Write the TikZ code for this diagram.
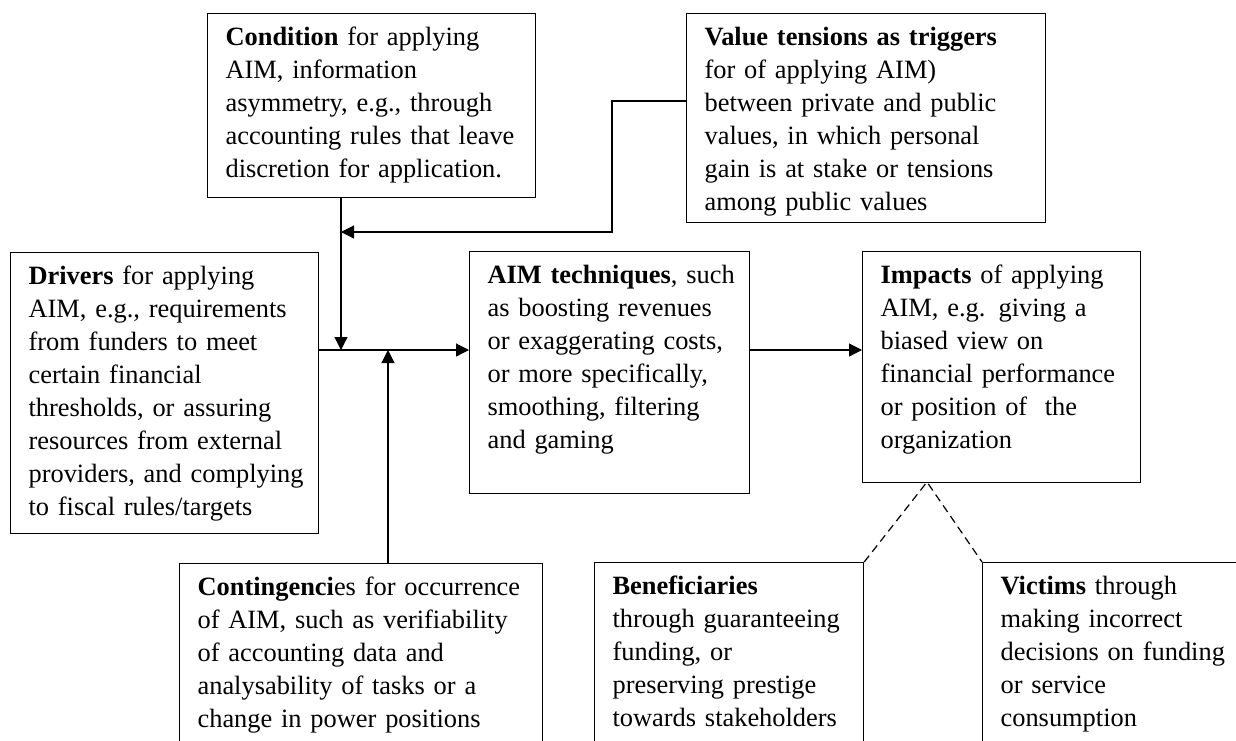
\documentclass[tikz,border=0pt]{standalone}
\usepackage{fontspec}
\setmainfont{Liberation Serif}
\usetikzlibrary{arrows.meta}

\tikzset{
  box/.style={draw, line width=0.6pt, anchor=north west, align=left,
    inner xsep=9pt, inner ysep=0pt, text height=16pt,
    font=\fontsize{13.2pt}{16.5pt}\selectfont,
    execute at begin node={\rightskip=-12pt plus 1fil}},
  flow/.style={line width=0.6pt, -{Triangle[length=6.5pt, width=6.5pt]}},
  link/.style={line width=0.6pt, dash pattern=on 4pt off 2.5pt}
}

\begin{document}
\begin{tikzpicture}[x=0.5pt, y=-0.5pt]
        \useasboundingbox (0,0) rectangle (1236,740);
        \clip (0,0) rectangle (1236,740);

        % Top row
        \node[box, text width=146pt, text depth=76pt] (condition) at (207,13)
          {\textbf{Condition} for applying\\AIM, information\\asymmetry, e.g., through\\accounting rules that leave\\discretion for application.};
        \node[box, text width=161.5pt, text depth=88.5pt] (value) at (686,13)
          {\textbf{Value tensions as triggers}\\for of applying AIM)\\between private and public\\values, in which personal\\gain is at stake or tensions\\among public values};

        % Middle row
        \node[box, text width=136pt, text depth=124.5pt] (drivers) at (10,252)
          {\textbf{Drivers} for applying\\AIM, e.g., requirements\\from funders to meet\\certain financial\\thresholds, or assuring\\resources from external\\providers, and complying\\to fiscal rules/targets};
        \node[box, text width=122pt, text depth=105pt] (aim) at (469,251)
          {\textbf{AIM techniques}, such\\as boosting revenues\\or exaggerating costs,\\or more specifically,\\smoothing, filtering\\and gaming};
        \node[box, text width=121pt, text depth=99.5pt] (impacts) at (862,251)
          {\textbf{Impacts} of applying\\AIM, e.g. giving a\\biased view on\\financial performance\\or position of\ \ the\\organization};

        % Bottom row (cut off by the page edge)
        \node[box, text width=163.5pt, text depth=109pt] (contingencies) at (179,563)
          {\textbf{Contingenci}es for occurrence\\of AIM, such as verifiability\\of accounting data and\\analysability of tasks or a\\change in power positions};
        \node[box, text width=116.5pt, text depth=109pt] (beneficiaries) at (594,562)
          {\textbf{Beneficiaries}\\through guaranteeing\\funding, or\\preserving prestige\\towards stakeholders};
        \node[box, text width=132pt, text depth=109pt] (victims) at (982,562)
          {\textbf{Victims} through\\making incorrect\\decisions on funding\\or service\\consumption};

        % Connectors
        \coordinate (junction) at (341,350);
        \coordinate (elbow) at (612,101);
        \coordinate (tee) at (341,232);
        \coordinate (rise) at (388,350);
        \coordinate (apex) at (927,482);

        \draw[flow] (drivers.east |- junction) -- (aim.west |- junction);
        \draw[flow] (aim.east |- junction) -- (impacts.west |- junction);
        \draw[flow] (condition.south -| junction) -- (junction);
        \draw[flow] (value.west |- elbow) -- (elbow) |- (tee);
        \draw[flow] (contingencies.north -| rise) -- (rise);
        \draw[link] (beneficiaries.north east) -- (apex) -- (victims.north west);
\end{tikzpicture}
\end{document}
